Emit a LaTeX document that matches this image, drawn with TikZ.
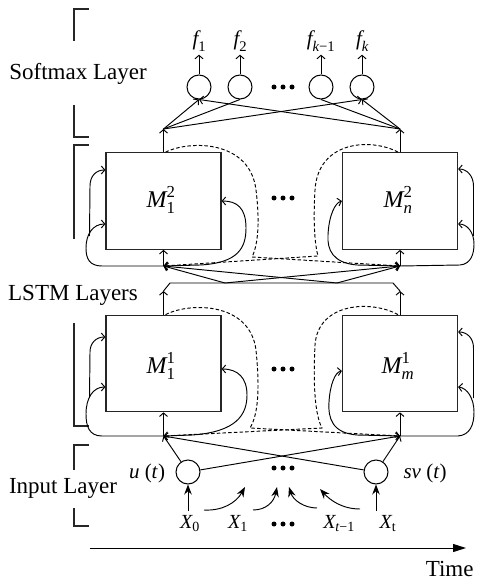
\documentclass[tikz,border=0pt]{standalone}
\usepackage{fontspec}
\setmainfont{Liberation Serif}
\usepackage{amsmath}
\usetikzlibrary{arrows.meta}
\begin{document}
\begin{tikzpicture}[x=1pt,y=-1pt,line width=0.95pt,
  arr/.style={-{Straight Barb[length=3.5pt,width=8pt]}},
  big/.style={-{Stealth[length=10pt,width=7.5pt]}},
  dsh/.style={dash pattern=on 3.5pt off 2.2pt},
  box/.style={draw=black!85,line width=1.2pt,minimum width=115pt,minimum height=96.5pt,inner sep=0pt},
  neuron/.style={draw,circle,minimum size=24pt,inner sep=0pt,line width=1pt},
  brk/.style={line width=1.1pt,draw=black!85},
  txt/.style={font=\fontsize{23}{27}\selectfont,inner sep=0pt},
  flbl/.style={font=\fontsize{21}{25}\selectfont,inner sep=0pt},
  mlbl/.style={font=\fontsize{24}{28}\selectfont,inner sep=0pt},
  xlbl/.style={font=\fontsize{20}{24}\selectfont,inner sep=0pt},
  ilbl/.style={font=\fontsize{21}{25}\selectfont,inner sep=0pt}]
\useasboundingbox (0,0) rectangle (476,580);

% brackets
\draw[brk] (89,9) -- (74,9) -- (74,41);
\draw[brk] (74,105) -- (74,137) -- (89,137);
\draw[brk] (89,145) -- (74,145) -- (74,239);
\draw[brk] (74,323) -- (74,426) -- (89,426);
\draw[brk] (89,445) -- (74,445) -- (74,470);
\draw[brk] (74,508) -- (74,526) -- (89,526);

% layer labels
\node[txt,anchor=base] (lsoft) at (78,80) {Softmax Layer};
\node[txt,anchor=base] (llstm) at (73,300) {LSTM Layers};
\node[txt,anchor=base] (linput) at (63,493) {Input Layer};
\node[txt,anchor=base east] (ltime) at (474,576) {Time};

% softmax
\node[neuron] (s1) at (199,87) {};
\node[neuron] (s2) at (240,87) {};
\node[neuron] (s3) at (321,87) {};
\node[neuron] (s4) at (362,87) {};
\node[flbl,anchor=base] (f1) at (199.5,46) {$\textit{f}_{\text{1}}$};
\node[flbl,anchor=base] (f2) at (240.5,46) {$\textit{f}_{\text{2}}$};
\node[flbl,anchor=base] (f3) at (321,46) {$\textit{f}_{\textit{k}\text{−1}}$};
\node[flbl,anchor=base] (f4) at (362.5,46) {$\textit{f}_{\textit{k}}$};
\foreach \i in {1,...,4} \draw[arr,shorten >=3pt] (s\i.north) -- (s\i.north |- f\i.south);
\fill (274,87) circle (2.5pt) (283,87) circle (2.5pt) (292,87) circle (2.5pt);

% coordinates
\coordinate (J3L) at (163.5,129);
\coordinate (J3R) at (400,129);
\coordinate (J2L) at (163.5,266);
\coordinate (J2R) at (400,266);
\coordinate (BL) at (163.5,291);
\coordinate (BR) at (400,291);
\coordinate (BLc) at (170,283);
\coordinate (BRc) at (393,283);
\coordinate (BA) at (225,283);
\coordinate (BB) at (337,283);
\coordinate (J1L) at (163.5,436);
\coordinate (J1R) at (400,436);

% boxes
\node[box] (B21) at (163.5,201) {};
\node[box] (B2n) at (400,201) {};
\node[box] (B11) at (163.5,363.5) {};
\node[box] (B1m) at (400,363.5) {};
\node[mlbl,anchor=base] (m21) at (161,207) {$\textit{M}_{\text{1}}^{\text{2}}$};
\node[mlbl,anchor=base] (m2n) at (398,207) {$\textit{M}_{\textit{n}}^{\text{2}}$};
\node[mlbl,anchor=base] (m11) at (161,373) {$\textit{M}_{\text{1}}^{\text{1}}$};
\node[mlbl,anchor=base] (m1m) at (398,373) {$\textit{M}_{\textit{m}}^{\text{1}}$};
\fill (274,198) circle (2.5pt) (283,198) circle (2.5pt) (292,198) circle (2.5pt);
\fill (274,369) circle (2.5pt) (283,369) circle (2.5pt) (292,369) circle (2.5pt);

% softmax connections
\draw[arr] (B21.north) -- (J3L);
\draw[arr] (B2n.north) -- (J3R);
\draw[arr] (J3L) -- (s1.south);
\draw (J3L) -- (s2.south);
\draw[arr] (J3L) -- (s4.south);
\draw[arr] (J3R) -- (s1.south);
\draw (J3R) -- (s3.south);
\draw[arr] (J3R) -- (s4.south);

% layer 2 inputs
\draw[arr] (J2L) -- (B21.south);
\draw[arr] (J2R) -- (B2n.south);
\draw[arr] (B11.north) -- (BL);
\draw[arr] (B1m.north) -- (BR);
\draw (BL) -- (BLc) -- (BRc) -- (BR);
\draw[arr] (BA) -- (J2L);
\draw[arr] (BA) -- (J2R);
\draw[arr] (BB) -- (J2L);
\draw[arr] (BB) -- (J2R);

% layer 2 recurrences
\coordinate (v2L) at (89.5,236);
\coordinate (v2R) at (473.5,236);
\draw[arr] (J2L) -- (102,266) .. controls (89,266) and (86,258) .. (86,248) .. controls (86,234) and (93,224) .. ([yshift=-23pt]B21.west);
\draw[arr] (v2L) -- (90,186) .. controls (90,176) and (96,170) .. ([yshift=31pt]B21.west);
\draw[arr] (J2L) -- (200,265) .. controls (238,263) and (246,248) .. (246,228) .. controls (246,208) and (237,201) .. (B21.east);
\draw[arr,dsh] ([xshift=2pt]B21.north) .. controls (190,140) and (250,140) .. (256,190) .. controls (260,222) and (258,245) .. (252,257) -- (J2R);
\draw[arr] (J2R) -- (357,265) .. controls (333,263) and (327,250) .. (328,235) .. controls (329,215) and (335,203) .. (B2n.west);
\draw[arr] (J2R) -- (460,265) .. controls (471,264) and (474,254) .. (474,244) .. controls (474,232) and (467,224) .. ([yshift=-23pt]B2n.east);
\draw[arr] (v2R) -- (473.5,186) .. controls (473.5,176) and (467,169) .. ([yshift=32pt]B2n.east);
\draw[arr,dsh] ([xshift=-2pt]B2n.north) .. controls (372,138) and (318,140) .. (315,190) .. controls (313,225) and (315,245) .. (318,256) -- (J2L);

% layer 1
\draw[arr] (J1L) -- (B11.south);
\draw[arr] (J1R) -- (B1m.south);
\coordinate (v1L) at (89.5,398);
\coordinate (v1R) at (473.5,398);
\draw[arr] (J1L) -- (102,436) .. controls (89,436) and (86,426) .. (86,414) .. controls (86,398) and (93,387) .. ([yshift=-23.5pt]B11.west);
\draw[arr] (v1L) -- (90,352) .. controls (90,343) and (96,337) .. ([yshift=26.5pt]B11.west);
\draw[arr] (J1L) -- (192,435) .. controls (236,432) and (247,415) .. (247,395) .. controls (247,378) and (238,369) .. ([yshift=-5.5pt]B11.east);
\draw[arr,dsh] ([xshift=2pt]B11.north) .. controls (190,302) and (250,302) .. (256,350) .. controls (260,390) and (258,415) .. (250,428) -- (J1R);
\draw[arr] (J1R) -- (357,435) .. controls (332,433) and (328,418) .. (329,402) .. controls (330,385) and (335,372) .. ([yshift=-7.5pt]B1m.west);
\draw[arr] (J1R) -- (458,436) .. controls (470,435) and (474,425) .. (474,412) .. controls (474,398) and (467,388) .. ([yshift=-23.5pt]B1m.east);
\draw[arr] (v1R) -- (473.5,348) .. controls (473.5,338) and (467,332) .. ([yshift=31.5pt]B1m.east);
\draw[arr,dsh] ([xshift=-2pt]B1m.north) .. controls (372,300) and (318,302) .. (315,345) .. controls (313,385) and (315,415) .. (322,428) -- (J1L);

% input layer
\node[neuron] (u) at (188,472) {};
\node[neuron] (sv) at (376,472) {};
\node[ilbl,anchor=base] (ul) at (147,478) {\textit{u} (\textit{t})};
\node[ilbl,anchor=base] (svl) at (425,478) {\textit{sv} (\textit{t})};
\draw[arr] (u) -- (J1L);
\draw[arr] (u) -- (J1R);
\draw[arr] (sv) -- (J1L);
\draw[arr] (sv) -- (J1R);
\fill (274,468) circle (2.5pt) (283,468) circle (2.5pt) (292,468) circle (2.5pt);

\node[xlbl,anchor=base] (X0) at (190,528) {$\textit{X}_{\text{0}}$};
\node[xlbl,anchor=base] (X1) at (238,528) {$\textit{X}_{\text{1}}$};
\node[xlbl,anchor=base] (Xt1) at (339,528) {$\textit{X}_{\textit{t}\text{−1}}$};
\node[xlbl,anchor=base] (Xt) at (388,528) {$\textit{X}_{\text{t}}$};
\fill (274,524) circle (2.5pt) (283,524) circle (2.5pt) (292,524) circle (2.5pt);

\coordinate (a0) at (188,511);
\coordinate (at) at (376,511);
\draw[big] (a0) -- (u.south);
\draw[big] (at) -- (sv.south);
\coordinate (c1a) at (204,510);
\coordinate (c1b) at (245,487);
\coordinate (c2a) at (253,510);
\coordinate (c2b) at (277,487);
\coordinate (c3a) at (317,508);
\coordinate (c3b) at (289,487);
\coordinate (c4a) at (360,509);
\coordinate (c4b) at (320,489);
\draw[big] (c1a) .. controls (222,511) and (236,503) .. (c1b);
\draw[big] (c2a) .. controls (266,510) and (274,502) .. (c2b);
\draw[big] (c3a) .. controls (304,508) and (293,500) .. (c3b);
\draw[big] (c4a) .. controls (342,509) and (330,500) .. (c4b);

% time axis
\coordinate (T0) at (90,548);
\coordinate (T1) at (466,548);
\draw[-{Triangle[length=13pt,width=8pt]}] (T0) -- (T1);
\end{tikzpicture}
\end{document}
